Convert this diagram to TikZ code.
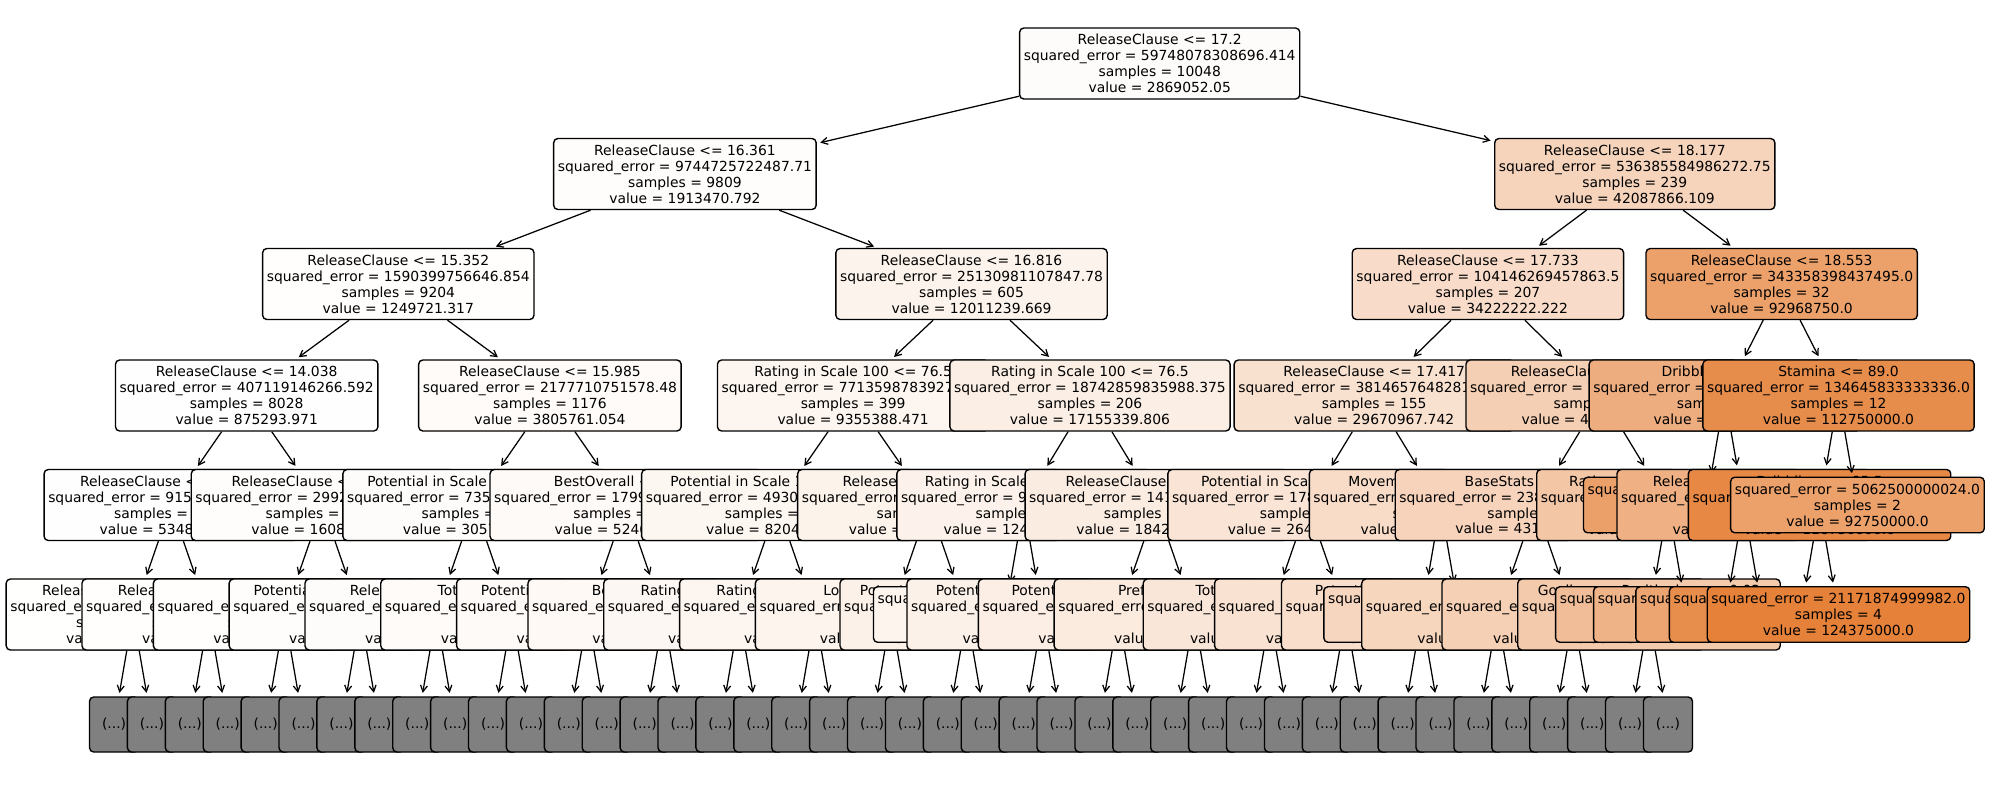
\documentclass[tikz,border=0pt]{standalone}
\usepackage{fontspec}
\setmainfont{DejaVu Sans}
\usetikzlibrary{arrows.meta}
\definecolor{orng}{RGB}{229,129,57}
\definecolor{gry}{RGB}{128,128,128}
\newcommand\mkgray[2]{%
  \node[gb] (#1-l) at ({133+37.9*(#2-0.5)},724.5) {(...)};
  \draw[ar] (#1) -- (#1-l);
  \node[gb] (#1-r) at ({133+37.9*(#2+0.5)},724.5) {(...)};
  \draw[ar] (#1) -- (#1-r);
}
\begin{document}
\begin{tikzpicture}[x=0.72pt,y=-0.72pt,
  tn/.style={draw=black, line width=1pt, rounded corners=3pt, align=center, inner sep=3pt,
    font=\fontsize{10}{11.45}\selectfont, minimum height=51.1pt},
  lf/.style={tn, minimum height=40pt},
  gb/.style={draw=black, line width=1pt, rounded corners=3pt, fill=gry, minimum width=35.3pt,
    minimum height=39.6pt, inner sep=0pt, font=\fontsize{10}{12}\selectfont},
  ar/.style={line width=0.9pt, -{Straight Barb[length=4.5pt,width=5pt]}, shorten >=2.5pt}]
\useasboundingbox (0,0) rectangle (1991,790);
\fill[white] (0,0) rectangle (1991,790);
% ---------------- root
\node[tn, fill=orng!2.3!white] (r) at ({133+37.9*27.09},63.5) {ReleaseClause <= 17.2\\squared\_error = 59748078308696.414\\samples = 10048\\value = 2869052.05};
% ---------------- left subtree
\node[tn, fill=orng!1.5!white] (a) at ({133+37.9*14.5625},174) {ReleaseClause <= 16.361\\squared\_error = 9744725722487.71\\samples = 9809\\value = 1913470.792};
\draw[ar] (r) -- (a);
\node[tn, fill=orng!1.0!white] (aa) at ({133+37.9*7},284) {ReleaseClause <= 15.352\\squared\_error = 1590399756646.854\\samples = 9204\\value = 1249721.317};
\draw[ar] (a) -- (aa);
\node[tn, fill=orng!0.7!white] (aaa) at ({133+37.9*3},395.5) {ReleaseClause <= 14.038\\squared\_error = 407119146266.592\\samples = 8028\\value = 875293.971};
\draw[ar] (aa) -- (aaa);
\node[tn, fill=orng!0.43!white] (n1) at ({133+37.9*1},505) {ReleaseClause <= 13.295\\squared\_error = 91592846213.207\\samples = 6105\\value = 534871.302};
\draw[ar] (aaa) -- (n1);
\node[tn, fill=orng!0.33!white] (p0) at ({133+37.9*0},614.5) {ReleaseClause <= 12.604\\squared\_error = 38217465503.118\\samples = 4623\\value = 405223.21};
\draw[ar] (n1) -- (p0);
\mkgray{p0}{0}
\node[tn, fill=orng!0.76!white] (p2) at ({133+37.9*2},614.5) {ReleaseClause <= 13.801\\squared\_error = 10853364209.512\\samples = 1482\\value = 946127.54};
\draw[ar] (n1) -- (p2);
\mkgray{p2}{2}
\node[tn, fill=orng!1.29!white] (n2) at ({133+37.9*5},505) {ReleaseClause <= 14.617\\squared\_error = 299241706584.226\\samples = 1923\\value = 1608245.19};
\draw[ar] (aaa) -- (n2);
\node[tn, fill=orng!1.05!white] (p4) at ({133+37.9*4},614.5) {Age <= 24.5\\squared\_error = 216543872219.415\\samples = 1103\\value = 1302877.61};
\draw[ar] (n2) -- (p4);
\mkgray{p4}{4}
\node[tn, fill=orng!1.62!white] (p6) at ({133+37.9*6},614.5) {Potential in Scale 100 <= 79.5\\squared\_error = 421947508162.781\\samples = 820\\value = 2014368.55};
\draw[ar] (n2) -- (p6);
\mkgray{p6}{6}
\node[tn, fill=orng!3.06!white] (aab) at ({133+37.9*11},395.5) {ReleaseClause <= 15.985\\squared\_error = 2177710751578.48\\samples = 1176\\value = 3805761.054};
\draw[ar] (aa) -- (aab);
\node[tn, fill=orng!2.46!white] (n3) at ({133+37.9*9},505) {Potential in Scale 100 <= 76.5\\squared\_error = 735429175314.862\\samples = 873\\value = 3057481.67};
\draw[ar] (aab) -- (n3);
\node[tn, fill=orng!2.18!white] (p8) at ({133+37.9*8},614.5) {ReleaseClause <= 15.68\\squared\_error = 351902743175.562\\samples = 591\\value = 2716592.22};
\draw[ar] (n3) -- (p8);
\mkgray{p8}{8}
\node[tn, fill=orng!3.03!white] (p10) at ({133+37.9*10},614.5) {TotalStats <= 1834.5\\squared\_error = 119856247301.572\\samples = 282\\value = 3771985.82};
\draw[ar] (n3) -- (p10);
\mkgray{p10}{10}
\node[tn, fill=orng!4.22!white] (n4) at ({133+37.9*13},505) {BestOverall <= 78.5\\squared\_error = 1799204853371.536\\samples = 303\\value = 5246534.65};
\draw[ar] (aab) -- (n4);
\node[tn, fill=orng!3.7!white] (p12) at ({133+37.9*12},614.5) {Potential in Scale 100 <= 81.5\\squared\_error = 987415238602.117\\samples = 187\\value = 4604278.07};
\draw[ar] (n4) -- (p12);
\mkgray{p12}{12}
\node[tn, fill=orng!5.05!white] (p14) at ({133+37.9*14},614.5) {BestOverall <= 75.5\\squared\_error = 2371846529174.083\\samples = 116\\value = 6281896.55};
\draw[ar] (n4) -- (p14);
\mkgray{p14}{14}
\node[tn, fill=orng!9.66!white] (ab) at ({133+37.9*22.125},284) {ReleaseClause <= 16.816\\squared\_error = 25130981107847.78\\samples = 605\\value = 12011239.669};
\draw[ar] (a) -- (ab);
\node[tn, fill=orng!7.52!white] (aba) at ({133+37.9*19},395.5) {Rating in Scale 100 <= 76.5\\squared\_error = 7713598783927.354\\samples = 399\\value = 9355388.471};
\draw[ar] (ab) -- (aba);
\node[tn, fill=orng!6.6!white] (n5) at ({133+37.9*17},505) {Potential in Scale 100 <= 79.5\\squared\_error = 4930215871462.937\\samples = 287\\value = 8204181.18};
\draw[ar] (aba) -- (n5);
\node[tn, fill=orng!5.97!white] (p16) at ({133+37.9*16},614.5) {Rating in Scale 100 <= 72.5\\squared\_error = 3416857209413.205\\samples = 189\\value = 7419312.17};
\draw[ar] (n5) -- (p16);
\mkgray{p16}{16}
\node[tn, fill=orng!7.81!white] (p18) at ({133+37.9*18},614.5) {Rating in Scale 100 <= 74.5\\squared\_error = 5927734183021.667\\samples = 98\\value = 9717857.14};
\draw[ar] (n5) -- (p18);
\mkgray{p18}{18}
\node[tn, fill=orng!9.9!white] (n6) at ({133+37.9*21},505) {ReleaseClause <= 16.65\\squared\_error = 865190274531.044\\samples = 112\\value = 12311160.714};
\draw[ar] (aba) -- (n6);
\node[tn, fill=orng!9.06!white] (p20) at ({133+37.9*20},614.5) {LongShots <= 71.5\\squared\_error = 6732105843977.148\\samples = 64\\value = 11265625.0};
\draw[ar] (n6) -- (p20);
\mkgray{p20}{20}
\node[tn, fill=orng!11.02!white] (p22) at ({133+37.9*22},614.5) {Potential in Scale 100 <= 83.5\\squared\_error = 98147665306.124\\samples = 48\\value = 13705729.167};
\draw[ar] (n6) -- (p22);
\mkgray{p22}{22}
\node[tn, fill=orng!13.8!white] (abb) at ({133+37.9*25.25},395.5) {Rating in Scale 100 <= 76.5\\squared\_error = 18742859835988.375\\samples = 206\\value = 17155339.806};
\draw[ar] (ab) -- (abb);
\node[tn, fill=orng!10.02!white] (n7) at ({133+37.9*23.5},505) {Rating in Scale 100 <= 70.5\\squared\_error = 945872194063.22\\samples = 41\\value = 12463414.634};
\draw[ar] (abb) -- (n7);
\node[lf, fill=orng!8.89!white] (p23) at ({133+37.9*23},614.5) {squared\_error = 689105263157.895\\samples = 19\\value = 11052631.579};
\draw[ar] (n7) -- (p23);
\node[tn, fill=orng!11!white] (p24) at ({133+37.9*24},614.5) {Potential in Scale 100 <= 82.5\\squared\_error = 1214587301587.302\\samples = 22\\value = 13681818.182};
\draw[ar] (n7) -- (p24);
\mkgray{p24}{24}
\node[tn, fill=orng!14.81!white] (n8) at ({133+37.9*27},505) {ReleaseClause <= 16.981\\squared\_error = 1412573959824.33\\samples = 165\\value = 18420606.061};
\draw[ar] (abb) -- (n8);
\node[tn, fill=orng!13.29!white] (p26) at ({133+37.9*26},614.5) {Potential in Scale 100 <= 80.5\\squared\_error = 15827149734920.518\\samples = 87\\value = 16528735.632};
\draw[ar] (n8) -- (p26);
\mkgray{p26}{26}
\node[tn, fill=orng!16.51!white] (p28) at ({133+37.9*28},614.5) {Preferred Foot <= 0.5\\squared\_error = 19734865281930.627\\samples = 78\\value = 20532051.282};
\draw[ar] (n8) -- (p28);
\mkgray{p28}{28}
% ---------------- right subtree
\node[tn, fill=orng!33.8!white] (b) at ({133+37.9*39.625},174) {ReleaseClause <= 18.177\\squared\_error = 536385584986272.75\\samples = 239\\value = 42087866.109};
\draw[ar] (r) -- (b);
\node[tn, fill=orng!27.5!white] (ba) at ({133+37.9*35.75},284) {ReleaseClause <= 17.733\\squared\_error = 104146269457863.5\\samples = 207\\value = 34222222.222};
\draw[ar] (b) -- (ba);
\node[tn, fill=orng!23.9!white] (baa) at ({133+37.9*32.75},395.5) {ReleaseClause <= 17.417\\squared\_error = 38146576482812.387\\samples = 155\\value = 29670967.742};
\draw[ar] (ba) -- (baa);
\node[tn, fill=orng!21.25!white] (n9) at ({133+37.9*31},505) {Potential in Scale 100 <= 78.5\\squared\_error = 17862954831524.781\\samples = 93\\value = 26430107.527};
\draw[ar] (baa) -- (n9);
\node[tn, fill=orng!19.71!white] (p30) at ({133+37.9*30},614.5) {TotalStats <= 1912.5\\squared\_error = 15193847218.362\\samples = 51\\value = 24509803.922};
\draw[ar] (n9) -- (p30);
\mkgray{p30}{30}
\node[tn, fill=orng!23.12!white] (p32) at ({133+37.9*32},614.5) {Age <= 26.5\\squared\_error = 198421501652.893\\samples = 42\\value = 28761904.762};
\draw[ar] (n9) -- (p32);
\mkgray{p32}{32}
\node[tn, fill=orng!27.76!white] (n10) at ({133+37.9*34.5},505) {Movement Agility <= 81.5\\squared\_error = 317263745632.914\\samples = 62\\value = 34532258.065};
\draw[ar] (baa) -- (n10);
\node[tn, fill=orng!26.26!white] (p34) at ({133+37.9*34},614.5) {Potential in Scale 100 <= 84.5\\squared\_error = 27584932175412.953\\samples = 47\\value = 32659574.468};
\draw[ar] (n10) -- (p34);
\mkgray{p34}{34}
\node[lf, fill=orng!32.48!white] (p35) at ({133+37.9*35},614.5) {squared\_error = 2906666666666.667\\samples = 15\\value = 40400000.0};
\draw[ar] (n10) -- (p35);
\node[tn, fill=orng!38.4!white] (bab) at ({133+37.9*38.75},395.5) {ReleaseClause <= 17.982\\squared\_error = 112036057692307.7\\samples = 52\\value = 47788461.538};
\draw[ar] (ba) -- (bab);
\node[tn, fill=orng!34.66!white] (n11) at ({133+37.9*37},505) {BaseStats <= 445.5\\squared\_error = 23817948717948.718\\samples = 39\\value = 43102564.103};
\draw[ar] (bab) -- (n11);
\node[tn, fill=orng!32.6!white] (p36) at ({133+37.9*36},614.5) {Age <= 27.5\\squared\_error = 2016528925619.835\\samples = 22\\value = 40545454.545};
\draw[ar] (n11) -- (p36);
\mkgray{p36}{36}
\node[tn, fill=orng!37.22!white] (p38) at ({133+37.9*38},614.5) {Age <= 24.5\\squared\_error = 259515570934.256\\samples = 17\\value = 46294117.647};
\draw[ar] (n11) -- (p38);
\mkgray{p38}{38}
\node[tn, fill=orng!45!white] (n12) at ({133+37.9*40.5},505) {Rating in Scale 100 <= 81.5\\squared\_error = 981307692307.692\\samples = 13\\value = 55961538.462};
\draw[ar] (bab) -- (n12);
\node[tn, fill=orng!42!white] (p40) at ({133+37.9*40},614.5) {Goalkeeper Positioning <= 0.03\\squared\_error = 915555555555.556\\samples = 9\\value = 52222222.222};
\draw[ar] (n12) -- (p40);
\mkgray{p40}{40}
\node[lf, fill=orng!52!white] (p41) at ({133+37.9*41},614.5) {squared\_error = 58593750000000.0\\samples = 4\\value = 64750000.0};
\draw[ar] (n12) -- (p41);
\node[tn, fill=orng!74.7!white] (bb) at ({133+37.9*43.5},284) {ReleaseClause <= 18.553\\squared\_error = 343358398437495.0\\samples = 32\\value = 92968750.0};
\draw[ar] (b) -- (bb);
\node[tn, fill=orng!65.2!white] (bba) at ({133+37.9*42},395.5) {Dribbling <= 84.5\\squared\_error = 187290000000000.0\\samples = 20\\value = 81100000.0};
\draw[ar] (bb) -- (bba);
\node[lf, fill=orng!75.38!white] (qa) at ({133+37.9*41.5},505) {squared\_error = 187187500000.0\\samples = 4\\value = 93750000.0};
\draw[ar] (bba) -- (qa);
\node[tn, fill=orng!62.66!white] (n13) at ({133+37.9*42.5},505) {ReleaseClause <= 18.361\\squared\_error = 130996093750.25\\samples = 16\\value = 77937500.0};
\draw[ar] (bba) -- (n13);
\node[lf, fill=orng!60!white] (p42) at ({133+37.9*42},614.5) {squared\_error = 12500000000000.0\\samples = 8\\value = 74500000.0};
\draw[ar] (n13) -- (p42);
\node[lf, fill=orng!72!white] (p43) at ({133+37.9*43},614.5) {squared\_error = 3046484375000.0\\samples = 8\\value = 89375000.0};
\draw[ar] (n13) -- (p43);
\node[tn, fill=orng!90.65!white] (bbb) at ({133+37.9*45},395.5) {Stamina <= 89.0\\squared\_error = 134645833333336.0\\samples = 12\\value = 112750000.0};
\draw[ar] (bb) -- (bbb);
\node[tn, fill=orng!93.87!white] (n14) at ({133+37.9*44.5},505) {Dribbling <= 85.5\\squared\_error = 79462500000000.0\\samples = 10\\value = 116750000.0};
\draw[ar] (bbb) -- (n14);
\node[lf, fill=orng!89.78!white] (p44) at ({133+37.9*44},614.5) {squared\_error = 42638888888888.9\\samples = 6\\value = 111666666.667};
\draw[ar] (n14) -- (p44);
\node[lf, fill=orng!100!white] (p45) at ({133+37.9*45},614.5) {squared\_error = 21171874999982.0\\samples = 4\\value = 124375000.0};
\draw[ar] (n14) -- (p45);
\node[lf, fill=orng!74.57!white] (qb) at ({133+37.9*45.5},505) {squared\_error = 5062500000024.0\\samples = 2\\value = 92750000.0};
\draw[ar] (bbb) -- (qb);
\end{tikzpicture}
\end{document}
